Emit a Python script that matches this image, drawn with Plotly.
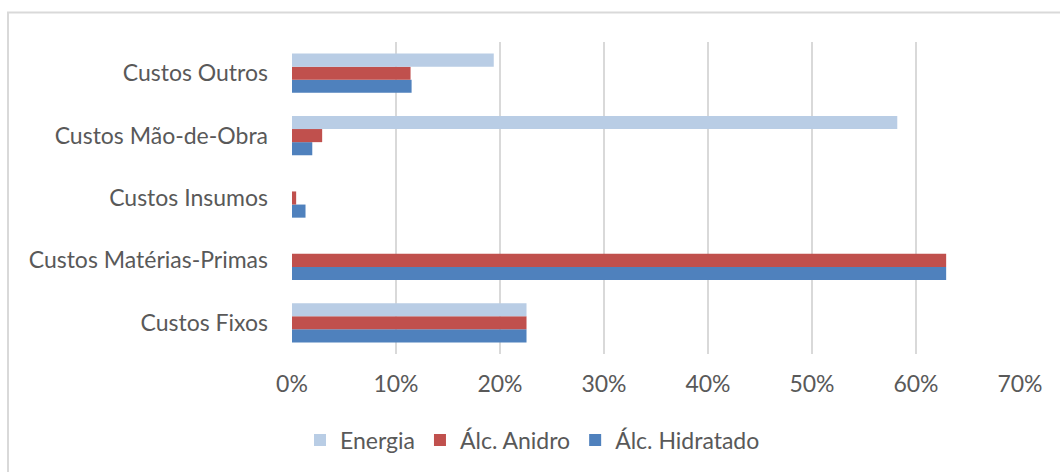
import plotly.graph_objects as go

categories = ["Custos Fixos", "Custos Matérias-Primas", "Custos Insumos", "Custos Mão-de-Obra", "Custos Outros"]
energia = [0.2255, 0.0, 0.0, 0.582, 0.194]
anidro = [0.2255, 0.629, 0.004, 0.029, 0.114]
hidratado = [0.2255, 0.629, 0.013, 0.0195, 0.115]
x_ticks = [0, 0.1, 0.2, 0.3, 0.4, 0.5, 0.6, 0.7]
x_tick_labels = ["0%", "10%", "20%", "30%", "40%", "50%", "60%", "70%"]

FONT = "Lato"
GRAY = "#595959"
FS = 23

fig = go.Figure()
# Plotly places the first trace at the bottom of each group for horizontal bars
fig.add_trace(go.Bar(y=categories, x=hidratado, name="Álc. Hidratado", orientation="h",
                     marker=dict(color="#4f81bd", line=dict(width=0))))
fig.add_trace(go.Bar(y=categories, x=anidro, name="Álc. Anidro", orientation="h",
                     marker=dict(color="#c0504d", line=dict(width=0))))
fig.add_trace(go.Bar(y=categories, x=energia, name="Energia", orientation="h",
                     marker=dict(color="#b9cde5", line=dict(width=0))))

L, R, T, B = 292, 40, 42, 117
W, H = 1060, 472
pw, ph = W - L - R, H - T - B

def px2paper_x(px):
    return (px - L) / pw

def px2paper_y(py):
    return 1 - (py - T) / ph

fig.update_layout(
    width=W, height=H,
    margin=dict(l=L, r=R, t=T, b=B),
    paper_bgcolor="white", plot_bgcolor="white",
    barmode="group", bargap=0.37, bargroupgap=0,
    font=dict(family=FONT, color=GRAY, size=FS),
    xaxis=dict(range=[0, 0.7], tickvals=x_ticks, ticktext=x_tick_labels,
               showgrid=True, gridcolor="#d9d9d9", gridwidth=2,
               zeroline=False, showline=False, ticks="",
               tickfont=dict(size=FS, color=GRAY, family=FONT), ticklabelstandoff=14),
    yaxis=dict(categoryorder="array", categoryarray=categories,
               showgrid=False, zeroline=False, showline=False, ticks="",
               tickfont=dict(size=FS, color=GRAY, family=FONT), ticklabelstandoff=23),
    legend=dict(orientation="h", x=px2paper_x(300), xanchor="left",
                y=px2paper_y(440), yanchor="middle",
                traceorder="reversed", font=dict(size=FS, color=GRAY, family=FONT),
                itemwidth=30, itemsizing="constant"),
    showlegend=True,
    shapes=[dict(type="rect", xref="paper", yref="paper",
                 x0=px2paper_x(8), x1=px2paper_x(1075),
                 y0=px2paper_y(485), y1=px2paper_y(12.5),
                 line=dict(color="#d9d9d9", width=2), fillcolor="rgba(0,0,0,0)", layer="below")],
)

fig.write_html("out.html")
